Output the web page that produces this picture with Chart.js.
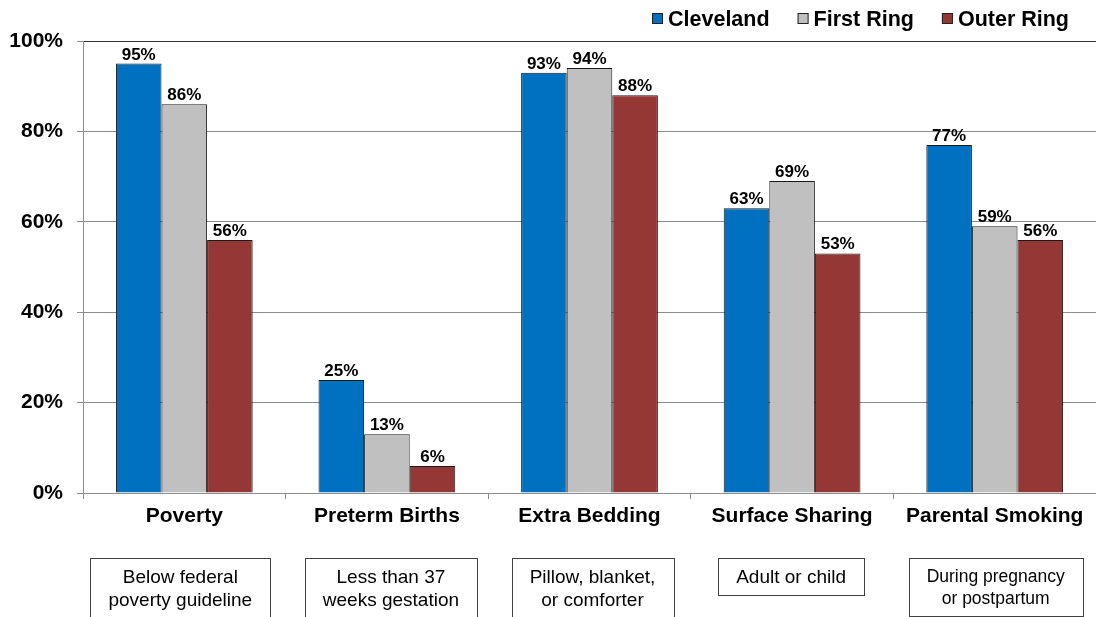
<!DOCTYPE html>
<html>
<head>
<meta charset="utf-8">
<script src="https://cdn.jsdelivr.net/npm/chart.js@4.4.1/dist/chart.umd.min.js"></script>
<style>
  html, body { margin: 0; padding: 0; background: #fff; }
  #wrap { width: 1096px; height: 617px; position: relative; }
</style>
</head>
<body>
<div id="wrap"><canvas id="c"></canvas></div>
<script>
// Risk factors by area
const categories = ['Poverty', 'Preterm Births', 'Extra Bedding', 'Surface Sharing', 'Parental Smoking'];
const notes = [
  ['Below federal', 'poverty guideline'],
  ['Less than 37', 'weeks gestation'],
  ['Pillow, blanket,', 'or comforter'],
  ['Adult or child'],
  ['During pregnancy', 'or postpartum']
];
const seriesNames = ['Cleveland', 'First Ring', 'Outer Ring'];
const cleveland = [95, 25, 93, 63, 77];
const firstRing = [86, 13, 94, 69, 59];
const outerRing = [56, 6, 88, 53, 56];
const yTicks = [0, 20, 40, 60, 80, 100];

const FONT = '"Liberation Sans", Arial, Helvetica, sans-serif';
const colors = ['#0070C0', '#C0C0C0', '#953735'];

// Percent labels above each bar
const valueLabels = {
  id: 'valueLabels',
  afterDatasetsDraw(chart) {
    const ctx = chart.ctx;
    ctx.save();
    ctx.font = 'bold 17px ' + FONT;
    ctx.fillStyle = '#000';
    ctx.textAlign = 'center';
    ctx.textBaseline = 'alphabetic';
    chart.data.datasets.forEach((ds, di) => {
      chart.getDatasetMeta(di).data.forEach((bar, i) => {
        ctx.fillText(ds.data[i] + '%', bar.x, bar.y - 4);
      });
    });
    ctx.restore();
  }
};

// Legend in the top-right corner
const cornerLegend = {
  id: 'cornerLegend',
  afterDraw(chart) {
    const ctx = chart.ctx;
    ctx.save();
    ctx.font = 'bold 21.5px ' + FONT;
    ctx.textBaseline = 'middle';
    ctx.textAlign = 'left';
    let end = 1069;
    const ds = chart.data.datasets;
    for (let i = ds.length - 1; i >= 0; i--) {
      const w = ctx.measureText(ds[i].label).width;
      const tx = end - w;
      const bx = tx - 16;
      ctx.fillStyle = ds[i].backgroundColor;
      ctx.fillRect(bx, 13, 11, 11);
      ctx.strokeStyle = '#222';
      ctx.lineWidth = 1;
      ctx.strokeRect(bx + 0.5, 13.5, 10, 10);
      ctx.fillStyle = '#000';
      ctx.fillText(ds[i].label, tx, 20);
      end = bx - 28;
    }
    ctx.restore();
  }
};

// Boxed descriptions under each category
const categoryNotes = {
  id: 'categoryNotes',
  afterDraw(chart, args, opts) {
    const ctx = chart.ctx;
    const xs = chart.scales.x;
    ctx.save();
    ctx.textAlign = 'center';
    ctx.textBaseline = 'middle';
    notes.forEach((lines, i) => {
      const size = opts.sizes[i];
      const lh = size >= 19 ? 23 : 22;
      ctx.font = size + 'px ' + FONT;
      const w = Math.max(...lines.map(t => ctx.measureText(t).width));
      const cx = xs.getPixelForValue(i) + opts.shift[i];
      const bw = Math.round(w + 2 * opts.pad);
      const bh = lines.length * lh + 14;
      const left = Math.round(cx - bw / 2);
      const top = opts.top;
      ctx.strokeStyle = '#404040';
      ctx.lineWidth = 1;
      ctx.strokeRect(left + 0.5, top + 0.5, bw, bh);
      ctx.fillStyle = '#000';
      lines.forEach((t, k) => {
        ctx.fillText(t, cx, top + 8 + lh / 2 + k * lh);
      });
    });
    ctx.restore();
  }
};

const series = [cleveland, firstRing, outerRing];

new Chart(document.getElementById('c'), {
  type: 'bar',
  data: {
    labels: categories,
    datasets: series.map((d, i) => ({
      label: seriesNames[i],
      data: d,
      backgroundColor: colors[i],
      borderColor: '#1a1a1a',
      borderWidth: 1,
      categoryPercentage: 0.675,
      barPercentage: 1.0
    }))
  },
  options: {
    responsive: true,
    maintainAspectRatio: false,
    animation: false,
    devicePixelRatio: 1,
    layout: { padding: { top: 41, left: 0, right: 0, bottom: 0 } },
    plugins: {
      legend: { display: false },
      tooltip: { enabled: false },
      categoryNotes: { sizes: [19, 19, 19, 19, 17.5], shift: [-4, 4, 3, -1, 1], pad: 18, top: 558 }
    },
    scales: {
      x: {
        grid: { drawOnChartArea: false, drawTicks: true, tickLength: 6, color: '#8c8c8c', offset: true },
        border: { color: '#8c8c8c', width: 1 },
        ticks: {
          color: '#000',
          font: { family: FONT, size: 21, weight: 'bold' },
          padding: 5,
          maxRotation: 0,
          autoSkip: false
        },
        afterFit(scale) { scale.height = 124; }
      },
      y: {
        min: 0,
        max: 100,
        afterBuildTicks(scale) { scale.ticks = yTicks.map(v => ({ value: v })); },
        grid: {
          color: c => (c.tick && c.tick.value === 100) ? '#333' : '#8c8c8c',
          tickColor: '#8c8c8c',
          tickLength: 6,
          lineWidth: 1
        },
        border: { color: '#8c8c8c', width: 1 },
        ticks: {
          color: '#000',
          font: { family: FONT, size: 21, weight: 'bold' },
          padding: 14,
          callback: v => v + '%'
        },
        afterFit(scale) { scale.width = 83; }
      }
    }
  },
  plugins: [valueLabels, cornerLegend, categoryNotes]
});
</script>
</body>
</html>
